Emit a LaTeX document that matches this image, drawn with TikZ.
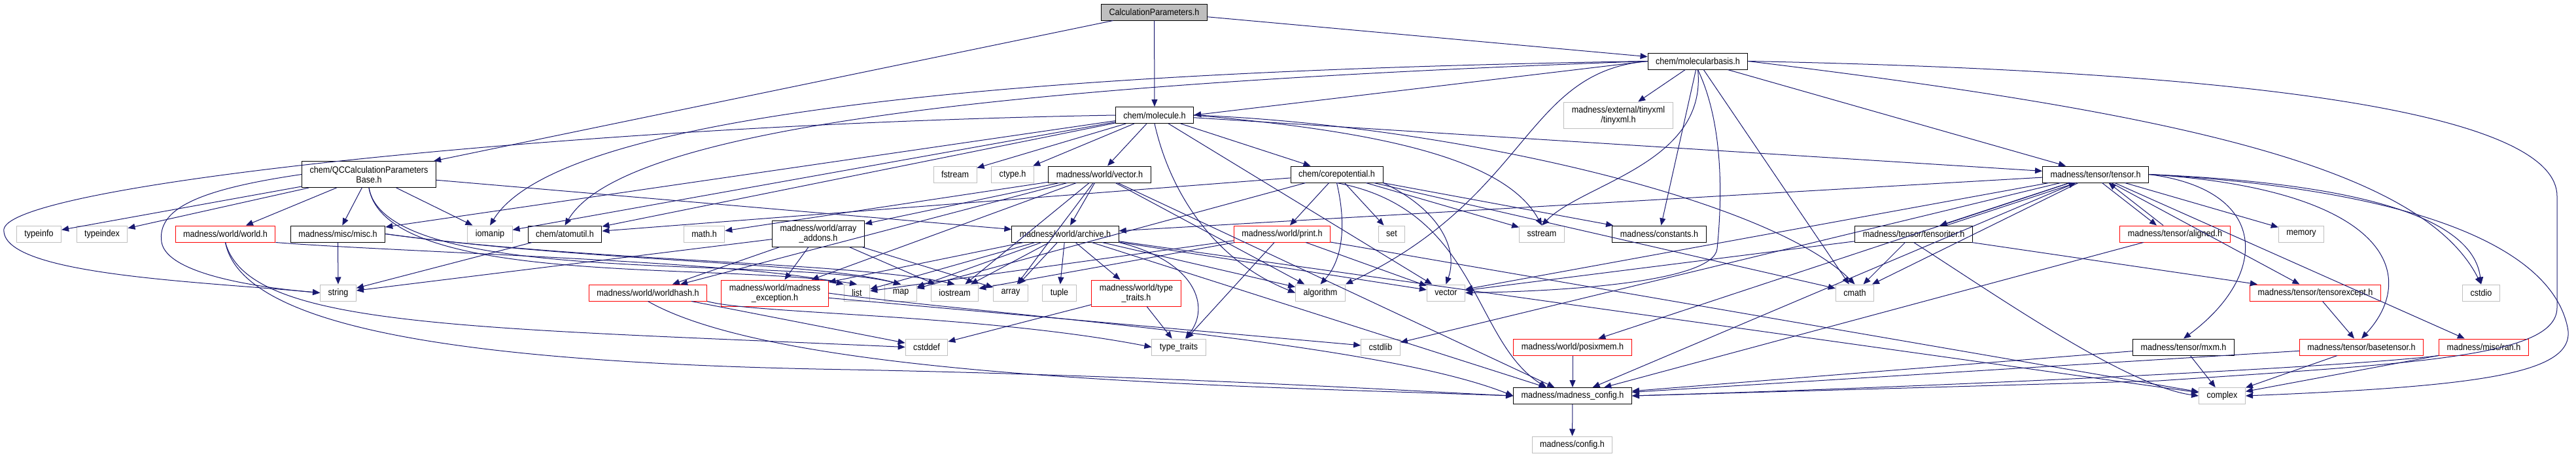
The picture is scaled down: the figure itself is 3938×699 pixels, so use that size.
\documentclass[tikz,border=0pt]{standalone}
\usepackage{fontspec}
\setmainfont{Liberation Sans}[FakeStretch=0.9]
\usetikzlibrary{arrows.meta}

\definecolor{edgeblue}{HTML}{191970}
\definecolor{extgray}{HTML}{BFBFBF}

\tikzset{
	file/.style={draw=black, rectangle, line width=1pt, minimum height=25pt, inner xsep=12pt, inner ysep=1pt, align=center, font=\fontsize{14}{15}\selectfont},
	extfile/.style={file, draw=extgray},
	cutfile/.style={file, draw=red},
	rootfile/.style={file, fill=extgray},
	twoline/.style={minimum height=40pt},
	dep/.style={-{Triangle[length=11pt,width=9pt]}, draw=edgeblue, line width=1pt}
}

\begin{document}
\begin{tikzpicture}[x=1pt, y=-1pt]
	\useasboundingbox (0,0) rectangle (3938,699);

	% Top file
	\node[rootfile] (calcparams) at (1764.5,18.5) {CalculationParameters.h};

	% Chemistry headers
	\node[file] (molbasis) at (2595.5,93.5) {chem/molecularbasis.h};
	\node[file] (molecule) at (1765,176) {chem/molecule.h};
	\node[extfile, twoline] (tinyxml) at (2474,176) {madness/external/tinyxml\\/tinyxml.h};

	% Second level
	\node[file, twoline] (qcbase) at (564,266.5) {chem/QCCalculationParameters\\Base.h};
	\node[extfile] (fstream) at (1460,266.5) {fstream};
	\node[extfile] (ctypeh) at (1548,266.5) {ctype.h};
	\node[file] (worldvector) at (1681,266.5) {madness/world/vector.h};
	\node[file] (corepot) at (2043.5,266.5) {chem/corepotential.h};
	\node[file] (tensor) at (3203.5,266.5) {madness/tensor/tensor.h};

	% Third level
	\node[extfile] (typeinfo) at (59.5,357.5) {typeinfo};
	\node[extfile] (typeindex) at (156,357.5) {typeindex};
	\node[cutfile] (world) at (344.5,357.5) {madness/world/world.h};
	\node[file] (misc) at (516.5,357.5) {madness/misc/misc.h};
	\node[extfile] (iomanip) at (749,357.5) {iomanip};
	\node[file] (atomutil) at (863.5,357.5) {chem/atomutil.h};
	\node[extfile] (mathh) at (1076.5,357.5) {math.h};
	\node[file, twoline] (arrayaddons) at (1251,357) {madness/world/array\\\_addons.h};
	\node[file] (archive) at (1628.5,357.5) {madness/world/archive.h};
	\node[cutfile] (print) at (1960,357.5) {madness/world/print.h};
	\node[extfile] (set) at (2127.5,357.5) {set};
	\node[extfile] (sstream) at (2357,357.5) {sstream};
	\node[file] (constants) at (2536.5,357.5) {madness/constants.h};
	\node[file] (tensoriter) at (2925.5,357.5) {madness/tensor/tensoriter.h};
	\node[cutfile] (aligned) at (3325,357.5) {madness/tensor/aligned.h};
	\node[extfile] (memory) at (3518,357.5) {memory};

	% Fourth level
	\node[extfile] (string) at (517,447.5) {string};
	\node[cutfile] (worldhash) at (990.5,447.5) {madness/world/worldhash.h};
	\node[cutfile, twoline] (mexcept) at (1184.5,448) {madness/world/madness\\\_exception.h};
	\node[extfile] (list) at (1310,447.5) {list};
	\node[extfile] (map) at (1377,447.5) {map};
	\node[extfile] (iostream) at (1459.5,447.5) {iostream};
	\node[extfile] (array) at (1545,447.5) {array};
	\node[extfile] (tuple) at (1619.5,447.5) {tuple};
	\node[cutfile, twoline] (worldtraits) at (1737,448) {madness/world/type\\\_traits.h};
	\node[extfile] (algorithm) at (2018.5,447.5) {algorithm};
	\node[extfile] (stdvector) at (2210.5,447.5) {vector};
	\node[extfile] (cmath) at (2835.5,447.5) {cmath};
	\node[cutfile] (tensorexcept) at (3539.5,447.5) {madness/tensor/tensorexcept.h};
	\node[extfile] (cstdio) at (3793,447.5) {cstdio};

	% Fifth level
	\node[extfile] (cstddef) at (1416.5,530.5) {cstddef};
	\node[extfile] (typetraits) at (1802,530.5) {type\_traits};
	\node[extfile] (cstdlib) at (2110.5,530.5) {cstdlib};
	\node[cutfile] (posixmem) at (2404,530.5) {madness/world/posixmem.h};
	\node[file] (mxm) at (3338,530.5) {madness/tensor/mxm.h};
	\node[cutfile] (basetensor) at (3610,530.5) {madness/tensor/basetensor.h};
	\node[cutfile] (ran) at (3797,530.5) {madness/misc/ran.h};

	% Bottom
	\node[file] (config) at (2404,605) {madness/madness\_config.h};
	\node[extfile] (complex) at (3397,605) {complex};
	\node[extfile] (configh) at (2403.5,679.5) {madness/config.h};

	% Includes
	\foreach \src/\dst in {calcparams/qcbase, calcparams/molecule, calcparams/molbasis,
		molbasis/tinyxml, molbasis/tensor, molbasis/constants, molbasis/cmath,
		molecule/corepot, molecule/atomutil, molecule/worldvector, molecule/misc, molecule/tensor, molecule/fstream, molecule/ctypeh, molecule/iomanip, molecule/stdvector,
		qcbase/typeinfo, qcbase/typeindex, qcbase/world, qcbase/misc, qcbase/iomanip, qcbase/archive,
		worldvector/arrayaddons, worldvector/mathh, worldvector/archive, worldvector/worldhash, worldvector/mexcept, worldvector/config, worldvector/iostream, worldvector/algorithm, worldvector/array,
		archive/mexcept, archive/list, archive/map, archive/iostream, archive/array, archive/tuple, archive/worldtraits, archive/algorithm, archive/stdvector, archive/complex, archive/config,
		arrayaddons/worldhash, arrayaddons/mexcept, arrayaddons/string, arrayaddons/array, arrayaddons/iostream,
		mexcept/cstdlib, worldhash/cstddef, misc/string, atomutil/string,
		worldtraits/cstddef, worldtraits/typetraits,
		corepot/atomutil, corepot/map, corepot/print, corepot/set, corepot/sstream, corepot/constants, corepot/cmath,
		print/list, print/stdvector, print/typetraits, print/complex, print/iostream,
		tensor/tensorexcept, tensor/ran, tensor/memory, tensor/config, tensor/posixmem, tensor/cmath, tensor/cstdlib, tensor/stdvector, tensor/archive,
		tensoriter/cmath, tensoriter/tensorexcept, tensoriter/stdvector,
		aligned/config, tensorexcept/basetensor, basetensor/complex, basetensor/config,
		ran/complex, mxm/config, mxm/complex, posixmem/config, config/configh}
		\draw[dep] (\src) -- (\dst);

	% Two-way includes
	\draw[dep] ([xshift=-40pt]tensor.south) -- ([xshift=40pt]tensoriter.north);
	\draw[dep] ([xshift=50pt]tensoriter.north) -- ([xshift=-30pt]tensor.south);
	\draw[dep] ([xshift=10pt]tensor.south) -- ([xshift=-28pt]aligned.north);
	\draw[dep] ([xshift=-18pt]aligned.north) -- ([xshift=20pt]tensor.south);

	% Routed around other files
	\draw[dep] (molbasis.west) -- (molecule.east);
	\draw[dep] (molbasis.west) .. controls (1500,110) and (850,180) .. (iomanip.north);
	\draw[dep] (molbasis.west) .. controls (1500,130) and (950,200) .. (atomutil.north);
	\draw[dep] (molbasis.south) .. controls (2610,250) and (2420,280) .. (sstream.north);
	\draw[dep] (molbasis.west) .. controls (2330,110) and (2340,300) .. (algorithm.north east);
	\draw[dep] (molbasis.south) .. controls (2640,200) and (2630,330) .. (2625,380) .. controls (2620,430) and (2400,445) .. (stdvector.east);
	\draw[dep] (molbasis.east) .. controls (3300,170) and (3700,250) .. (cstdio.north);
	\draw[dep] (molecule.east) .. controls (2100,200) and (2300,240) .. (sstream.north);
	\draw[dep] (molecule.south) .. controls (1790,300) and (1860,400) .. (algorithm.west);
	\draw[dep] (molecule.east) .. controls (2200,190) and (2700,300) .. (cmath.north);
	\draw[dep] (qcbase.south) .. controls (590,440) and (1200,390) .. (map.north);
	\draw[dep] (qcbase.south) .. controls (590,440) and (1100,400) .. (list.north);
	\draw[dep] (misc.east) .. controls (900,400) and (1300,400) .. (iostream.north);
	\draw[dep] (misc.east) .. controls (900,400) and (1250,400) .. (map.north);
	\draw[dep] (world.south) .. controls (370,500) and (700,555) .. (1300,565) .. controls (1800,575) and (2200,600) .. (config.west);
	\draw[dep] (world.south) .. controls (380,500) and (700,500) .. (cstddef.west);
	\draw[dep] (world.south east) .. controls (600,385) and (1150,400) .. (list.north west);
	\draw[dep] (worldhash.south) .. controls (1200,580) and (1900,590) .. (config.west);
	\draw[dep] (worldhash.south east) .. controls (1150,480) and (1500,480) .. (typetraits.west);
	\draw[dep] (mexcept.east) .. controls (1500,480) and (2100,520) .. (config.west);
	\draw[dep] (archive.south east) .. controls (1830,400) and (1850,470) .. ([xshift=10pt]typetraits.north);
	\draw[dep] (corepot.south) .. controls (2260,320) and (2250,520) .. ([xshift=-40pt]config.north);
	\draw[dep] (corepot.south east) .. controls (2200,320) and (2230,380) .. (stdvector.north);
	\draw[dep] (corepot.south) .. controls (2060,350) and (2050,400) .. (algorithm.north);
	\draw[dep] (tensor.east) .. controls (3470,290) and (3470,420) .. (mxm.north);
	\draw[dep] (tensor.east) .. controls (3650,290) and (3700,420) .. (basetensor.north);
	\draw[dep] (tensor.east) .. controls (3600,280) and (3780,330) .. (cstdio.north);
	\draw[dep] (tensoriter.south) .. controls (3050,450) and (3250,590) .. (complex.west);
	\draw[dep] (ran.south west) .. controls (3600,560) and (3000,590) .. (config.east);

	% Long detours
	\draw[dep] (molecule.west) .. controls (900,190) and (20,280) .. (6,350) .. controls (0,420) and (300,430) .. (string.west);
	\draw[dep] (qcbase.west) .. controls (300,290) and (240,320) .. (247,370) .. controls (255,420) and (400,440) .. (string.west);
	\draw[dep] (molbasis.east) .. controls (3500,110) and (3909,180) .. (3909,300) -- (3909,470) .. controls (3909,545) and (3700,555) .. (3300,582) -- (config.east);
	\draw[dep] (tensor.east) .. controls (3700,290) and (3900,380) .. (3925,500) .. controls (3940,570) and (3800,590) .. (complex.east);
\end{tikzpicture}
\end{document}
